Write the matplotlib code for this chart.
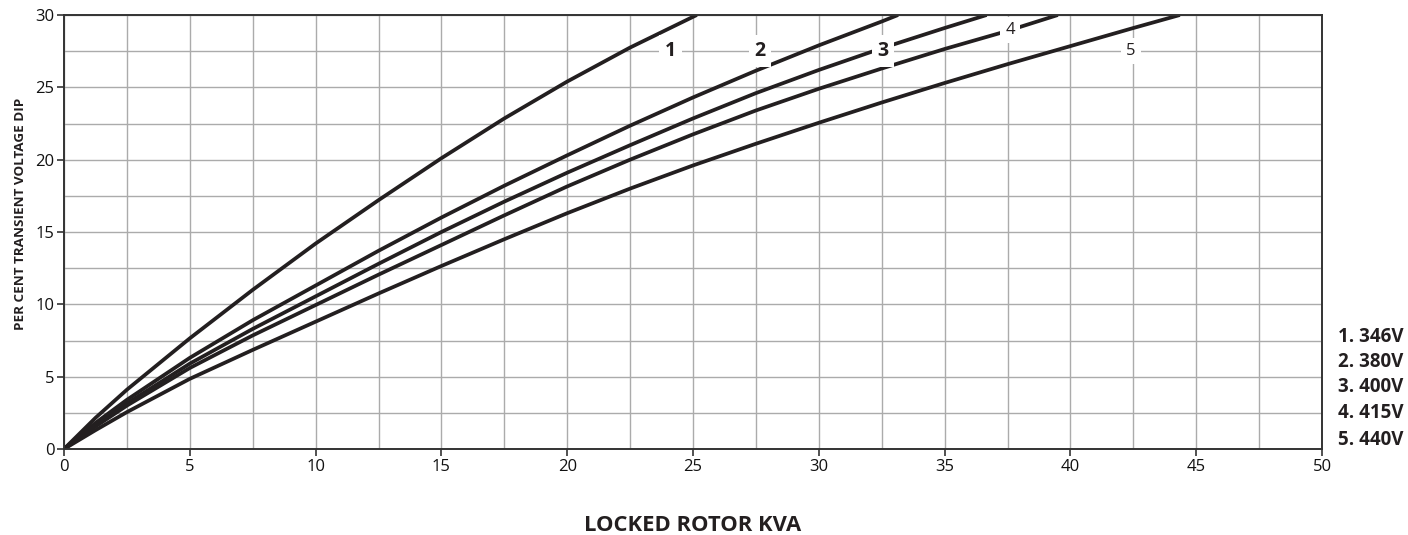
import matplotlib
matplotlib.use("Agg")
import matplotlib.pyplot as plt
import numpy as np

plt.rcParams['font.family'] = ['Open Sans', 'DejaVu Sans']

# Data (Locked rotor kVA vs per cent transient voltage dip)
kva_1 = [0, 1.25, 2.5, 5, 7.5, 10, 12.5, 15, 17.5, 20, 22.5, 25.15]
dip_1 = [0, 2.15, 4.1, 7.65, 11.0, 14.2, 17.2, 20.1, 22.85, 25.4, 27.75, 30.0]

kva_2 = [0, 1.25, 2.5, 5, 7.5, 10, 12.5, 15, 17.5, 20, 22.5, 25, 27.5, 30, 32.5, 33.15]
dip_2 = [0, 1.8, 3.4, 6.3, 8.9, 11.3, 13.7, 16.0, 18.2, 20.3, 22.35, 24.3, 26.15, 27.9, 29.55, 30.0]

kva_3 = [0, 1.25, 2.5, 5, 7.5, 10, 12.5, 15, 17.5, 20, 22.5, 25, 27.5, 30, 32.5, 35, 36.67]
dip_3 = [0, 1.65, 3.15, 5.9, 8.3, 10.55, 12.8, 15.0, 17.1, 19.1, 21.0, 22.85, 24.6, 26.2, 27.7, 29.1, 30.0]

kva_4 = [0, 1.25, 2.5, 5, 7.5, 10, 12.5, 15, 17.5, 20, 22.5, 25, 27.5, 30, 32.5, 35, 37.5, 39.5]
dip_4 = [0, 1.55, 3.0, 5.6, 7.85, 9.95, 12.05, 14.1, 16.15, 18.15, 20.0, 21.75, 23.4, 24.9, 26.3, 27.65, 28.9, 30.0]

kva_5 = [0, 1.25, 2.5, 5, 7.5, 10, 12.5, 15, 17.5, 20, 22.5, 25, 27.5, 30, 32.5, 35, 37.5, 40, 42.5, 44.35]
dip_5 = [0, 1.3, 2.55, 4.85, 6.85, 8.8, 10.75, 12.65, 14.5, 16.3, 18.0, 19.6, 21.1, 22.55, 23.95, 25.3, 26.6, 27.85, 29.1, 30.0]

curve_labels = ["1", "2", "3", "4", "5"]
label_x = [24.1, 27.66, 32.55, 37.6, 42.4]
label_y = [27.5, 27.5, 27.5, 28.95, 27.5]
label_bold = [True, True, True, False, False]

legend_lines = ["1. 346V", "2. 380V", "3. 400V", "4. 415V", "5. 440V"]

x_ticks = list(range(0, 51, 5))
y_ticks = list(range(0, 31, 5))

INK = "#231f20"

fig = plt.figure(figsize=(14.08, 5.35), dpi=100)
ax = fig.add_axes([64/1408, 86/535, (1322-64)/1408, (449-15)/535])

curves = [(kva_1, dip_1), (kva_2, dip_2), (kva_3, dip_3), (kva_4, dip_4), (kva_5, dip_5)]
for xs, ys in curves:
    ax.plot(xs, ys, color=INK, lw=2.7, solid_capstyle='butt', solid_joinstyle='round', zorder=3)

ax.set_xlim(0, 50)
ax.set_ylim(0, 30)
ax.set_xticks(x_ticks)
ax.set_yticks(y_ticks)
ax.set_xticks(np.arange(0, 50.1, 2.5), minor=True)
ax.set_yticks(np.arange(0, 30.1, 2.5), minor=True)
ax.grid(which='both', color='#ababab', lw=1.0, zorder=1)
ax.set_axisbelow(True)
ax.tick_params(which='major', direction='out', length=5, width=1.2, color='#333333',
               labelsize=12, labelcolor='#111111', pad=2)
ax.tick_params(which='minor', length=0)
for s in ax.spines.values():
    s.set_color('#333333')
    s.set_linewidth(1.4)
    s.set_zorder(4)

for t, lx, ly, b in zip(curve_labels, label_x, label_y, label_bold):
    ax.text(lx, ly, t, ha='center', va='center',
            fontsize=14 if b else 12, fontweight='bold' if b else 'normal',
            color=INK, zorder=5,
            bbox=dict(boxstyle='square,pad=0.3', fc='white', ec='none'))

ax.set_xlabel("LOCKED ROTOR KVA", fontsize=15.8, fontweight='bold', color=INK, labelpad=29)
fig.text(21/1408, 1 - 213.5/535, "PER CENT TRANSIENT VOLTAGE DIP", rotation=90,
         ha='center', va='center', fontsize=9.7, fontweight='bold', color=INK)

legend_y_px = [337, 362, 387, 413, 440]
for txt, ypx in zip(legend_lines, legend_y_px):
    fig.text(1338/1408, 1 - ypx/535, txt, ha='left', va='center', fontsize=13.5,
             fontweight='bold', color=INK)

fig.savefig("out.png", dpi=100)
